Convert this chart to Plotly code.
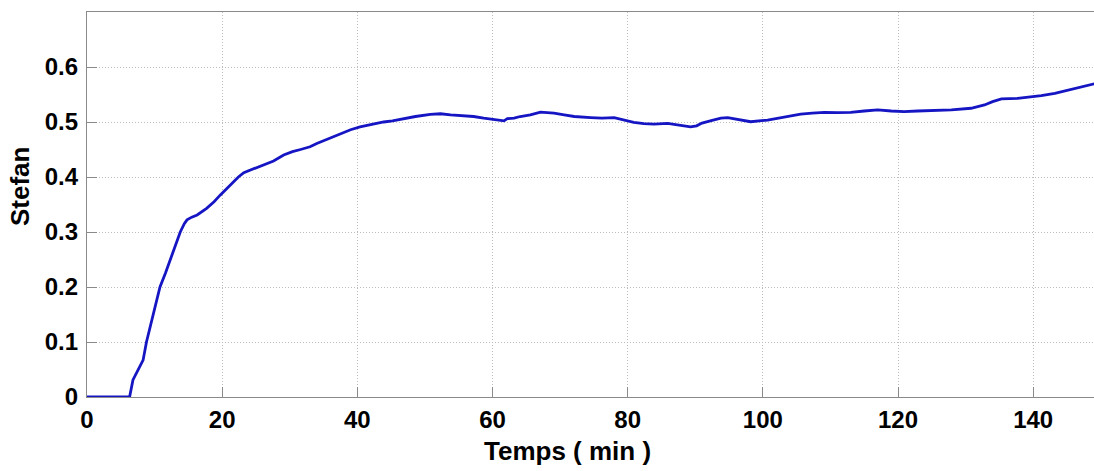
import plotly.graph_objects as go

# Stefan number over time
temps_min = [0, 2, 4, 6.3, 6.8, 7.6, 8.3, 8.8, 9.8, 10.8, 11.6, 12.3, 13.1, 13.8, 14.4,
             14.8, 15.5, 16.3, 17.7, 18.8, 19.7, 20.7, 21.6, 22.4, 23.2, 24.4, 25.6, 26.6,
             27.6, 29.1, 30.4, 31.6, 33.0, 34.0, 35.8, 37.5, 39.0, 40.4, 42.2, 43.9, 45.2,
             46.4, 48.6, 50.8, 52.3, 53.8, 55.5, 57.2, 58.7, 60.2, 61.2, 61.7, 62.2, 63.2,
             64.1, 65.6, 67.1, 68.1, 69.1, 70.6, 72.1, 74.5, 76.2, 78.0, 79.5, 80.9, 82.4,
             83.9, 85.9, 87.6, 89.3, 90.2, 91.0, 92.5, 93.8, 94.8, 96.5, 98.2, 100.7, 102.4,
             104.1, 105.6, 107.3, 109.1, 111.0, 113.0, 115.0, 117.0, 119.0, 120.9, 122.9,
             124.9, 127.9, 130.8, 132.8, 134.0, 135.3, 137.7, 139.5, 141.2, 143.2, 145.1,
             147.1, 149.2]
stefan = [0, 0, 0, 0, 0.031, 0.05, 0.067, 0.10, 0.15, 0.20, 0.225, 0.249, 0.275, 0.30,
          0.315, 0.322, 0.327, 0.331, 0.343, 0.355, 0.367, 0.379, 0.391, 0.400, 0.408,
          0.414, 0.419, 0.424, 0.429, 0.44, 0.446, 0.450, 0.455, 0.461, 0.470, 0.479,
          0.486, 0.491, 0.496, 0.500, 0.502, 0.505, 0.510, 0.514, 0.515, 0.513, 0.512,
          0.510, 0.507, 0.505, 0.503, 0.502, 0.506, 0.507, 0.510, 0.513, 0.518, 0.517,
          0.516, 0.513, 0.510, 0.508, 0.507, 0.508, 0.504, 0.4995, 0.497, 0.496, 0.4975,
          0.494, 0.491, 0.493, 0.498, 0.503, 0.507, 0.508, 0.504, 0.5005, 0.5036, 0.507,
          0.511, 0.5145, 0.516, 0.5176, 0.517, 0.5176, 0.520, 0.522, 0.520, 0.5188,
          0.520, 0.5206, 0.522, 0.525, 0.531, 0.537, 0.542, 0.543, 0.545, 0.548, 0.552,
          0.558, 0.564, 0.570]

x_ticks = [0, 20, 40, 60, 80, 100, 120, 140]
y_ticks = [0, 0.1, 0.2, 0.3, 0.4, 0.5, 0.6]

W, H = 1094, 471
L, R, T, B = 87, 0, 12, 74

fig = go.Figure()
fig.add_trace(go.Scatter(
    x=temps_min, y=stefan, mode="lines",
    line=dict(color="#1515c4", width=2.8),
    showlegend=False, hoverinfo="skip",
))

tick_font = dict(family="Liberation Sans, Arial, sans-serif", size=24, color="black")
axis_common = dict(
    showline=True, linecolor="#8a8a8a", linewidth=1.3, mirror=True,
    ticks="inside", ticklen=10, tickcolor="#8a8a8a", tickwidth=1.3,
    showgrid=True, gridcolor="#bdbdbd", gridwidth=1, griddash="1px,2px",
    zeroline=False, tickfont=tick_font,
)

fig.update_xaxes(range=[0, 149], tickvals=x_ticks,
                 ticktext=[f"<b>{v}</b>" for v in x_ticks],
                 ticklabelstandoff=1, **axis_common)
fig.update_yaxes(range=[0, 0.7], tickvals=y_ticks,
                 ticktext=[f"<b>{v:g}</b>" for v in y_ticks],
                 ticklabelstandoff=3, **axis_common)

pw, ph = W - L - R, H - T - B
title_font = dict(family="Liberation Sans, Arial, sans-serif", size=26, color="black")
fig.add_annotation(text="<b>Temps ( min )</b>", xref="paper", yref="paper",
                   x=(567.5 - L) / pw, y=(H - B - 451) / ph,
                   showarrow=False, font=title_font, xanchor="center", yanchor="middle")
fig.add_annotation(text="<b>Stefan</b>", xref="paper", yref="paper",
                   x=(20 - L) / pw, y=(H - B - 187) / ph, textangle=-90,
                   showarrow=False, font=title_font, xanchor="center", yanchor="middle")

fig.update_layout(
    width=W, height=H, autosize=False,
    margin=dict(l=L, r=R, t=T, b=B, pad=0),
    paper_bgcolor="white", plot_bgcolor="white",
)

fig.write_html("out.html")
